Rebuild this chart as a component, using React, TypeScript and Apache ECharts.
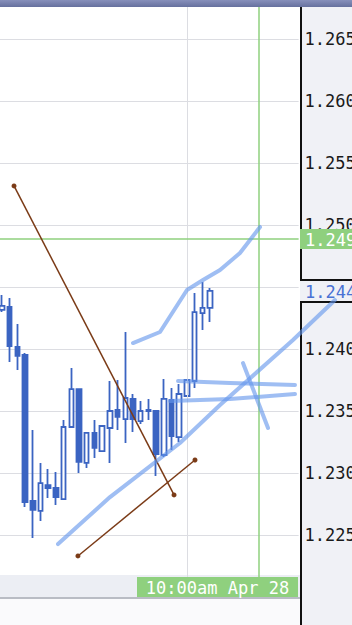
import React, { useEffect, useRef } from 'react';
import * as echarts from 'echarts';

// 39 bar slots across the visible time axis (28 bars drawn, rest is empty space to the right)
const categories = Array.from({ length: 39 }, (_, i) => `bar ${i + 1}`);

const opens = [1.24315, 1.24339, 1.24016, 1.23952, 1.22774, 1.22694, 1.22903, 1.22879, 1.2279, 1.23371,
  1.23677, 1.23081, 1.23323, 1.23177, 1.23363, 1.23508, 1.23435, 1.23597, 1.23419, 1.23508,
  1.235, 1.23145, 1.23589, 1.2329, 1.23621, 1.23742, 1.2429, 1.24331];
const closes = [1.24347, 1.24024, 1.23944, 1.22766, 1.22702, 1.22919, 1.22879, 1.22806, 1.23371, 1.23677,
  1.23089, 1.23323, 1.23202, 1.23379, 1.235, 1.23452, 1.23605, 1.23435, 1.235, 1.235,
  1.23153, 1.23597, 1.23298, 1.23637, 1.2375, 1.24298, 1.24331, 1.24468];
const lows = [1.24298, 1.23895, 1.23831, 1.22726, 1.22476, 1.22613, 1.22798, 1.22742, 1.2279, 1.23371,
  1.23, 1.2304, 1.23121, 1.23169, 1.23081, 1.23347, 1.23242, 1.23331, 1.23395, 1.23427,
  1.22976, 1.23129, 1.23185, 1.2325, 1.23613, 1.23685, 1.24153, 1.24218];
const highs = [1.24435, 1.24411, 1.24202, 1.23968, 1.23347, 1.23081, 1.23032, 1.23008, 1.23427, 1.23847,
  1.23677, 1.23323, 1.23427, 1.23379, 1.23742, 1.2375, 1.24137, 1.23637, 1.23581, 1.23597,
  1.235, 1.23758, 1.23685, 1.23718, 1.2375, 1.24452, 1.2454, 1.24492];

const yMin = 1.22;
const yMax = 1.27;
const yStep = 0.005;
const hiddenTicks = ['1.270', '1.220', '1.245'];

// drawn annotations: [bar position, price]
const brownLine1 = [[1.56, 1.25315], [22.33, 1.22823]];
const brownLine2 = [[9.86, 1.22331], [25.05, 1.23105]];
const blueStrokeA = [[17.0, 1.24048], [20.51, 1.24137], [24.01, 1.24476], [26.09, 1.24556], [28.3, 1.24637], [30.89, 1.24774], [33.49, 1.24984]];
const blueStrokeB = [[7.27, 1.22427], [14.02, 1.22806], [23.1, 1.23242], [28.3, 1.23548], [37.77, 1.24073], [43.22, 1.24395]];
const blueStrokeC1 = [[22.85, 1.23742], [29.6, 1.23726], [38.03, 1.2371]];
const blueStrokeC2 = [[21.81, 1.23581], [29.6, 1.23597], [38.03, 1.23637]];
const blueStrokeC3 = [[31.28, 1.23887], [34.53, 1.23363]];

const gridlineBar = 24;
const crosshairBar = 33.36;
const crosshairPrice = 1.24887;
const crosshairTime = '10:00am Apr 28';
const crosshairPriceLabel = '1.249';
const lastPriceLabel = '1.244';

const MONO = '"DejaVu Sans Mono", monospace';
const BLUE = '#3b64c2';
const GREEN = '#8fd07e';

// plot geometry: 39 slots over 300.46 px; annotation layer spans to the page edge with the same scale
const PLOT_LEFT = -1.85;
const PLOT_WIDTH = 300.46;
const SLOTS = 39;
const OVERLAY_WIDTH = 356;

export default function App() {
  const ref = useRef<HTMLDivElement>(null);
  useEffect(() => {
    if (!ref.current) return;
    const chart = echarts.init(ref.current, undefined, { renderer: 'svg' });
    const candleData = opens.map((o, i) => [o, closes[i], lows[i], highs[i]]);
    const pxPerSlot = PLOT_WIDTH / SLOTS;
    const overlayMax = -0.5 + OVERLAY_WIDTH / pxPerSlot;
    const strokeStyle = { width: 4, color: 'rgba(100,150,235,0.62)', cap: 'round', join: 'round' };
    const stroke = (data: number[][]) => ({
      type: 'line', xAxisIndex: 2, yAxisIndex: 2, data, symbol: 'none', smooth: false,
      clip: false, z: 7, silent: true, lineStyle: strokeStyle,
    });
    const brown = (data: number[][], extra: any = {}) => ({
      type: 'line', xAxisIndex: 2, yAxisIndex: 2, data, symbol: 'circle', symbolSize: 5,
      showAllSymbol: true, clip: false, z: 6, silent: true,
      lineStyle: { width: 1.5, color: '#7b3b17' }, itemStyle: { color: '#7b3b17' }, ...extra,
    });
    const option: any = {
      animation: false,
      backgroundColor: 'transparent',
      grid: [
        { left: PLOT_LEFT, top: -23, width: PLOT_WIDTH, height: 620, outerBoundsMode: 'none', containLabel: false },
        { left: PLOT_LEFT, top: -23, width: OVERLAY_WIDTH, height: 620, outerBoundsMode: 'none', containLabel: false },
      ],
      xAxis: [
        { type: 'category', data: categories, show: false, gridIndex: 0 },
        { type: 'value', min: -0.5, max: SLOTS - 0.5, show: false, gridIndex: 0 },
        { type: 'value', min: -0.5, max: overlayMax, show: false, gridIndex: 1 },
      ],
      yAxis: [
        {
          type: 'value', min: yMin, max: yMax, interval: yStep, position: 'left', gridIndex: 0,
          axisLine: { show: false }, axisTick: { show: false }, axisLabel: { show: false },
          splitLine: { show: true, lineStyle: { color: '#dcdde2', width: 1 } },
        },
        {
          type: 'value', min: yMin, max: yMax, interval: yStep, position: 'right', z: 10, gridIndex: 0,
          axisLine: { show: false }, axisTick: { show: false }, splitLine: { show: false },
          axisLabel: {
            margin: 6, align: 'left', fontFamily: MONO, fontSize: 17, color: '#1a1a1a',
            hideOverlap: false,
            formatter: (v: number) => {
              const s = v.toFixed(3);
              return hiddenTicks.includes(s) ? '' : s;
            },
          },
        },
        { type: 'value', min: yMin, max: yMax, show: false, gridIndex: 1 },
      ],
      series: [
        {
          type: 'line', xAxisIndex: 1, yAxisIndex: 0, data: [], z: 1, silent: true,
          markLine: {
            silent: true, symbol: 'none', label: { show: false }, precision: 5,
            lineStyle: { color: '#dcdde2', width: 1, type: 'solid' },
            data: [{ xAxis: gridlineBar }],
          },
        },
        {
          type: 'candlestick', xAxisIndex: 0, yAxisIndex: 0, data: candleData, barWidth: 5, z: 3,
          itemStyle: { color: '#ffffff', color0: BLUE, borderColor: BLUE, borderColor0: BLUE, borderWidth: 1.8 },
        },
        {
          type: 'line', xAxisIndex: 1, yAxisIndex: 0, data: [], z: 6, silent: true,
          markLine: {
            silent: true, symbol: 'none', label: { show: false }, precision: 5,
            lineStyle: { color: GREEN, width: 1.5, type: 'solid' },
            data: [{ xAxis: crosshairBar }, { yAxis: crosshairPrice }],
          },
        },
        brown(brownLine1),
        brown(brownLine2),
        stroke(blueStrokeA),
        stroke(blueStrokeB),
        stroke(blueStrokeC1),
        stroke(blueStrokeC2),
        stroke(blueStrokeC3),
      ],
      graphic: [
        { type: 'rect', shape: { x: 0, y: 575, width: 300, height: 23 }, style: { fill: '#eceef4' }, z: 4, silent: true },
        { type: 'rect', shape: { x: 0, y: 599, width: 300, height: 26 }, style: { fill: '#fafafc' }, z: 4, silent: true },
        { type: 'line', shape: { x1: 0, y1: 598, x2: 300, y2: 598 }, style: { stroke: '#b9bcc4', lineWidth: 2 }, z: 4, silent: true },
        { type: 'line', shape: { x1: 301, y1: 7, x2: 301, y2: 281 }, style: { stroke: '#111', lineWidth: 2 }, z: 1, silent: true },
        { type: 'line', shape: { x1: 300, y1: 280, x2: 352, y2: 280 }, style: { stroke: '#111', lineWidth: 2 }, z: 1, silent: true },
        { type: 'line', shape: { x1: 300, y1: 302, x2: 352, y2: 302 }, style: { stroke: '#111', lineWidth: 2 }, z: 1, silent: true },
        { type: 'line', shape: { x1: 301, y1: 301, x2: 301, y2: 625 }, style: { stroke: '#111', lineWidth: 2 }, z: 1, silent: true },
        {
          type: 'rect', shape: { x: 0, y: 0, width: 352, height: 7 }, z: 20, silent: true,
          style: { fill: new echarts.graphic.LinearGradient(0, 0, 0, 1, [{ offset: 0, color: '#8790bb' }, { offset: 1, color: '#66709e' }]) },
        },
        { type: 'rect', shape: { x: 137, y: 577, width: 161, height: 20 }, style: { fill: GREEN }, z: 12, silent: true },
        {
          type: 'text', x: 217.5, y: 587.5, z: 13, silent: true,
          style: { text: crosshairTime, fill: '#ffffff', font: `17px ${MONO}`, textAlign: 'center', textVerticalAlign: 'middle' },
        },
        { type: 'rect', shape: { x: 300, y: 229, width: 52, height: 20 }, style: { fill: GREEN }, z: 12, silent: true },
        {
          type: 'text', x: 305, y: 239.5, z: 13, silent: true,
          style: { text: crosshairPriceLabel, fill: '#ffffff', font: `17px ${MONO}`, textAlign: 'left', textVerticalAlign: 'middle' },
        },
        {
          type: 'text', x: 305, y: 292, z: 10, silent: true,
          style: { text: lastPriceLabel, fill: '#4a72d4', font: `17px ${MONO}`, textAlign: 'left', textVerticalAlign: 'middle' },
        },
      ],
    };
    chart.setOption(option);
    return () => chart.dispose();
  }, []);
  return (
    <div
      ref={ref}
      style={{
        position: 'absolute', left: 0, top: 0, width: 352, height: 625,
        background: 'linear-gradient(to right, #ffffff 300px, #f0f1f6 300px)',
      }}
    />
  );
}
